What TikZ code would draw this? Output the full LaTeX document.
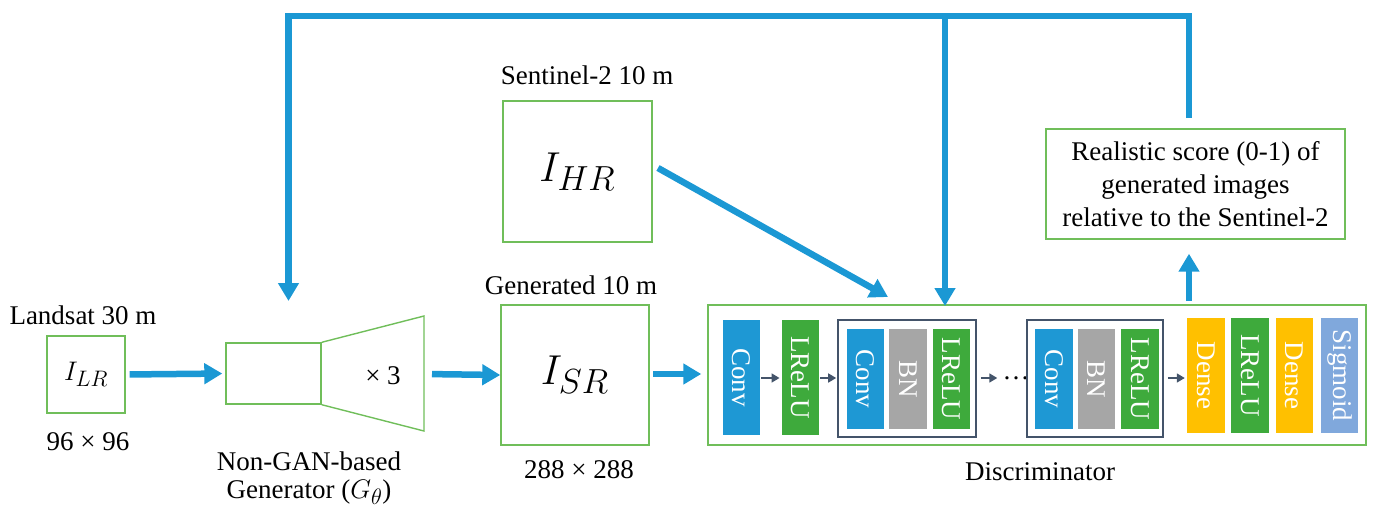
\documentclass[tikz,border=0pt]{standalone}
\usepackage{fontspec}
\usepackage{graphicx}
\setmainfont{Liberation Serif}
\usetikzlibrary{arrows.meta}
\definecolor{flowblue}{RGB}{27,152,212}
\definecolor{boxgreen}{RGB}{112,190,90}
\definecolor{convblue}{RGB}{30,152,212}
\definecolor{relugreen}{RGB}{62,170,60}
\definecolor{bngray}{RGB}{166,166,166}
\definecolor{densegold}{RGB}{255,192,0}
\definecolor{sigblue}{RGB}{128,168,220}
\definecolor{slate}{RGB}{68,84,106}
% large math symbol: typeset at the largest math size, then scaled
\newcommand{\bigsym}[2]{\scalebox{#1}{\fontsize{24.88}{26}\selectfont$#2$}}

\begin{document}
\begin{tikzpicture}[x=1pt,y=-1pt,
  flow/.style={draw=flowblue, line width=6.5pt, -{Triangle[length=18pt,width=20pt]}},
  imgbox/.style={draw=boxgreen, line width=1.4pt, inner sep=0pt},
  caption/.style={font=\fontsize{27}{28}\selectfont, inner sep=0pt},
  layer/.style={inner sep=0pt, text=white, font=\fontsize{27}{28}\selectfont},
  group/.style={draw=slate, line width=1.6pt, inner sep=0pt},
  tiny/.style={draw=slate, line width=1.6pt, -{Triangle[length=8pt,width=9pt]}}
]
\useasboundingbox (0,0) rectangle (1373,512);

% ---------- input image ----------
\node[imgbox, minimum width=78pt, minimum height=77pt] (land) at (86,374.5)
  {\bigsym{1.08}{I_{LR}}};
\node[caption] (landtop) at (83,315) {Landsat 30 m};
\node[caption] (landbot) at (88,442) {96 × 96};

% ---------- generator ----------
\node[imgbox, minimum width=95pt, minimum height=61pt] (gen) at (273.5,373.5) {};
\coordinate (gtl) at (424,316);
\coordinate (gbl) at (424,431);
\coordinate (gout) at (424,374);
\draw[boxgreen, line width=1.4pt, line join=miter] (gen.north east) -- (gtl) -- (gbl) -- (gen.south east);
\node[caption] (times) at (383,376) {× 3};
\node[caption, align=center] (genlab) at (309,478) {Non-GAN-based\\Generator (\bigsym{1.08}{G_\theta})};

% ---------- generated image ----------
\node[imgbox, minimum width=148pt, minimum height=140pt] (sr) at (575,375)
  {\bigsym{1.68}{I_{SR}}};
\node[caption] (srtop) at (571,285) {Generated 10 m};
\node[caption] (srbot) at (579,470) {288 × 288};

% ---------- reference image ----------
\node[imgbox, minimum width=149pt, minimum height=141pt] (hr) at (577.5,171.5)
  {\bigsym{1.68}{I_{HR}}};
\node[caption] (hrtop) at (587,75) {Sentinel-2 10 m};

% ---------- discriminator ----------
\node[imgbox, minimum width=658pt, minimum height=140pt] (disc) at (1037,375) {};
\node[caption] (disclab) at (1040,472) {Discriminator};

\node[layer, fill=convblue, minimum width=37.5pt, minimum height=115pt] (c1) at (741.5,377.5) {\rotatebox{-90}{Conv}};
\node[layer, fill=relugreen, minimum width=37.5pt, minimum height=115pt] (r1) at (800.5,377.5) {\rotatebox{-90}{LReLU}};

\node[group, minimum width=138pt, minimum height=117pt] (g1) at (907,378.5) {};
\node[layer, fill=convblue, minimum width=37.5pt, minimum height=100pt] (c2) at (865.5,379) {\rotatebox{-90}{Conv}};
\node[layer, fill=bngray, minimum width=38pt, minimum height=100pt] (b2) at (908,379) {\rotatebox{-90}{BN}};
\node[layer, fill=relugreen, minimum width=37.5pt, minimum height=100pt] (r2) at (951.5,379) {\rotatebox{-90}{LReLU}};

\node[font=\fontsize{27}{28}\selectfont, inner sep=0pt] (dots) at (1016,378) {…};

\node[group, minimum width=136pt, minimum height=117pt] (g2) at (1095,378.5) {};
\node[layer, fill=convblue, minimum width=38pt, minimum height=100pt] (c3) at (1054,379) {\rotatebox{-90}{Conv}};
\node[layer, fill=bngray, minimum width=37pt, minimum height=100pt] (b3) at (1096.5,379) {\rotatebox{-90}{BN}};
\node[layer, fill=relugreen, minimum width=38pt, minimum height=100pt] (r3) at (1140,379) {\rotatebox{-90}{LReLU}};

\node[layer, fill=densegold, minimum width=38pt, minimum height=115pt] (d1) at (1206,375.5) {\rotatebox{-90}{Dense}};
\node[layer, fill=relugreen, minimum width=38pt, minimum height=115pt] (r4) at (1250,375.5) {\rotatebox{-90}{LReLU}};
\node[layer, fill=densegold, minimum width=37pt, minimum height=115pt] (d2) at (1294.5,375.5) {\rotatebox{-90}{Dense}};
\node[layer, fill=sigblue, minimum width=37pt, minimum height=115pt] (sg) at (1339.5,375.5) {\rotatebox{-90}{Sigmoid}};

\draw[tiny, shorten <=1pt, shorten >=2pt] (c1.east |- 0,378) -- (r1.west |- 0,378);
\draw[tiny, shorten <=1pt, shorten >=1pt] (r1.east |- 0,378) -- (g1.west |- 0,378);
\draw[tiny, shorten <=4pt, shorten >=5pt] (g1.east |- 0,378) -- (dots.west |- 0,378);
\draw[tiny, shorten <=4pt, shorten >=2pt] (g2.east |- 0,378) -- (d1.west |- 0,378);

% ---------- score ----------
\node[imgbox, minimum width=299pt, minimum height=110pt, align=center,
      font=\fontsize{27}{33}\selectfont] (score) at (1195.5,184)
  {Realistic score (0-1) of\\generated images\\relative to the Sentinel-2};

% ---------- main flow ----------
\draw[flow, shorten <=4pt, shorten >=3pt] (land.east) -- (gen.west);
\draw[flow, shorten <=8pt] (gout) -- (sr.west);
\coordinate (srout) at (653,374);
\draw[flow, shorten >=6pt] (srout) -- (disc.west |- srout);
\coordinate (hrout) at (658,168);
\coordinate (hrin) at (888,297);
\draw[flow] (hrout) -- (hrin);
\coordinate (upfoot) at (1189,305);
\draw[flow, shorten <=4pt, shorten >=14pt] (upfoot) -- (upfoot |- score.south);

% ---------- feedback loop ----------
\coordinate (fbstart) at (1189,118);
\coordinate (fbtop) at (1189,16);
\coordinate (fbleft) at (288.5,16);
\coordinate (genin) at (288.5,301);
\coordinate (midtop) at (945,16);
\coordinate (midin) at (945,306);
\draw[flow, line join=miter] (fbstart) -- (fbtop) -- (fbleft) -- (genin);
\draw[flow] (midtop) -- (midin);
\end{tikzpicture}
\end{document}
